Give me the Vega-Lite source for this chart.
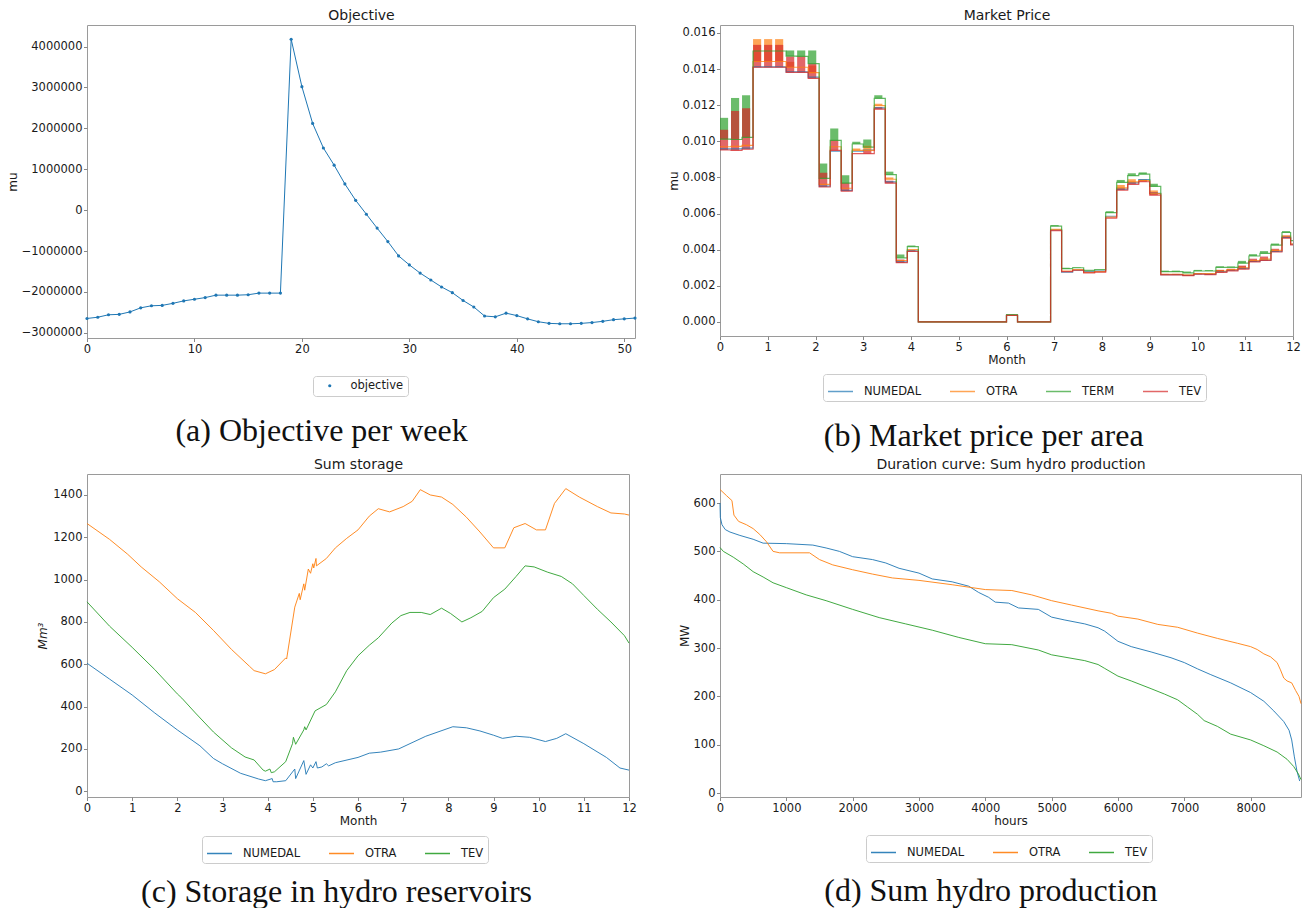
{
"$schema": "https://vega.github.io/schema/vega-lite/v6.json",
"padding": {"left": 1, "top": -112, "right": 0, "bottom": 0},
"background": "white",
"columns": 3,
"align": "none",
"bounds": "flush",
"spacing": {"row": 136, "column": 85},
"resolve": {"scale": {"color": "independent"}, "legend": {"color": "independent"}},
"datasets": {
"obj": [
{"week":0,"value":-2650000},{"week":1,"value":-2620000},{"week":2,"value":-2560000},{"week":3,"value":-2550000},{"week":4,"value":-2490000},{"week":5,"value":-2390000},{"week":6,"value":-2340000},{"week":7,"value":-2330000},{"week":8,"value":-2280000},{"week":9,"value":-2220000},{"week":10,"value":-2180000},{"week":11,"value":-2140000},{"week":12,"value":-2080000},{"week":13,"value":-2080000},{"week":14,"value":-2080000},{"week":15,"value":-2070000},{"week":16,"value":-2030000},{"week":17,"value":-2030000},{"week":18,"value":-2030000},{"week":19,"value":4180000},{"week":20,"value":3020000},{"week":21,"value":2120000},{"week":22,"value":1520000},{"week":23,"value":1100000},{"week":24,"value":640000},{"week":25,"value":240000},{"week":26,"value":-100000},{"week":27,"value":-440000},{"week":28,"value":-770000},{"week":29,"value":-1120000},{"week":30,"value":-1340000},{"week":31,"value":-1540000},{"week":32,"value":-1710000},{"week":33,"value":-1880000},{"week":34,"value":-2020000},{"week":35,"value":-2210000},{"week":36,"value":-2370000},{"week":37,"value":-2590000},{"week":38,"value":-2610000},{"week":39,"value":-2520000},{"week":40,"value":-2580000},{"week":41,"value":-2660000},{"week":42,"value":-2730000},{"week":43,"value":-2770000},{"week":44,"value":-2780000},{"week":45,"value":-2780000},{"week":46,"value":-2770000},{"week":47,"value":-2750000},{"week":48,"value":-2720000},{"week":49,"value":-2680000},{"week":50,"value":-2660000},{"week":51,"value":-2640000}
],
"price": [
{"m":0,"NUMEDAL":0.00958,"OTRA":0.0097,"TERM":0.01012,"TEV":0.00952},
{"m":0.2308,"NUMEDAL":0.00958,"OTRA":0.00972,"TERM":0.0101,"TEV":0.0095},
{"m":0.4615,"NUMEDAL":0.00962,"OTRA":0.00978,"TERM":0.01022,"TEV":0.00956},
{"m":0.6923,"NUMEDAL":0.01412,"OTRA":0.01442,"TERM":0.015,"TEV":0.0141},
{"m":0.9231,"NUMEDAL":0.01412,"OTRA":0.01442,"TERM":0.015,"TEV":0.0141},
{"m":1.1538,"NUMEDAL":0.01412,"OTRA":0.01442,"TERM":0.015,"TEV":0.0141},
{"m":1.3846,"NUMEDAL":0.01385,"OTRA":0.0141,"TERM":0.01472,"TEV":0.01382},
{"m":1.6154,"NUMEDAL":0.01385,"OTRA":0.0141,"TERM":0.0147,"TEV":0.01382},
{"m":1.8462,"NUMEDAL":0.01355,"OTRA":0.0138,"TERM":0.0143,"TEV":0.01348},
{"m":2.0769,"NUMEDAL":0.00752,"OTRA":0.00762,"TERM":0.00795,"TEV":0.00747},
{"m":2.3077,"NUMEDAL":0.00945,"OTRA":0.0097,"TERM":0.01005,"TEV":0.0095},
{"m":2.5385,"NUMEDAL":0.00728,"OTRA":0.0074,"TERM":0.00768,"TEV":0.00724},
{"m":2.7692,"NUMEDAL":0.00945,"OTRA":0.0095,"TERM":0.00985,"TEV":0.00932},
{"m":3.0,"NUMEDAL":0.00952,"OTRA":0.0095,"TERM":0.00968,"TEV":0.00932},
{"m":3.2308,"NUMEDAL":0.01185,"OTRA":0.01198,"TERM":0.01238,"TEV":0.01178},
{"m":3.4615,"NUMEDAL":0.00775,"OTRA":0.0079,"TERM":0.00816,"TEV":0.00768},
{"m":3.6923,"NUMEDAL":0.00332,"OTRA":0.0034,"TERM":0.00355,"TEV":0.00328},
{"m":3.9231,"NUMEDAL":0.00393,"OTRA":0.004,"TERM":0.00417,"TEV":0.0039},
{"m":4.1538,"NUMEDAL":0,"OTRA":0,"TERM":0,"TEV":0},
{"m":6.0,"NUMEDAL":0.00036,"OTRA":0.00037,"TERM":0.0004,"TEV":0.00036},
{"m":6.2308,"NUMEDAL":0,"OTRA":0,"TERM":0,"TEV":0},
{"m":6.9231,"NUMEDAL":0.0051,"OTRA":0.00512,"TERM":0.0053,"TEV":0.00505},
{"m":7.1538,"NUMEDAL":0.00276,"OTRA":0.00282,"TERM":0.00295,"TEV":0.00278},
{"m":7.3846,"NUMEDAL":0.00286,"OTRA":0.0029,"TERM":0.003,"TEV":0.00286},
{"m":7.6154,"NUMEDAL":0.00278,"OTRA":0.00274,"TERM":0.00285,"TEV":0.00272},
{"m":7.8462,"NUMEDAL":0.00282,"OTRA":0.00278,"TERM":0.0029,"TEV":0.00276},
{"m":8.0769,"NUMEDAL":0.00585,"OTRA":0.0058,"TERM":0.00605,"TEV":0.00575},
{"m":8.3077,"NUMEDAL":0.00735,"OTRA":0.00742,"TERM":0.00773,"TEV":0.0073},
{"m":8.5385,"NUMEDAL":0.0077,"OTRA":0.00775,"TERM":0.0081,"TEV":0.00762},
{"m":8.7692,"NUMEDAL":0.00788,"OTRA":0.00782,"TERM":0.00818,"TEV":0.00776},
{"m":9.0,"NUMEDAL":0.00712,"OTRA":0.0071,"TERM":0.0075,"TEV":0.00702},
{"m":9.2308,"NUMEDAL":0.00262,"OTRA":0.00264,"TERM":0.00278,"TEV":0.0026},
{"m":9.4615,"NUMEDAL":0.00262,"OTRA":0.00264,"TERM":0.00278,"TEV":0.0026},
{"m":9.6923,"NUMEDAL":0.00258,"OTRA":0.0026,"TERM":0.00272,"TEV":0.00256},
{"m":9.9231,"NUMEDAL":0.00266,"OTRA":0.00268,"TERM":0.00282,"TEV":0.00264},
{"m":10.1538,"NUMEDAL":0.00265,"OTRA":0.00268,"TERM":0.00282,"TEV":0.00262},
{"m":10.3846,"NUMEDAL":0.00278,"OTRA":0.00282,"TERM":0.00302,"TEV":0.00274},
{"m":10.6154,"NUMEDAL":0.00286,"OTRA":0.0029,"TERM":0.00302,"TEV":0.00283},
{"m":10.8462,"NUMEDAL":0.00296,"OTRA":0.003,"TERM":0.00325,"TEV":0.00292},
{"m":11.0769,"NUMEDAL":0.00335,"OTRA":0.0034,"TERM":0.00365,"TEV":0.00332},
{"m":11.3077,"NUMEDAL":0.00342,"OTRA":0.00348,"TERM":0.0038,"TEV":0.0034},
{"m":11.5385,"NUMEDAL":0.0039,"OTRA":0.00396,"TERM":0.00425,"TEV":0.00387},
{"m":11.7692,"NUMEDAL":0.00468,"OTRA":0.00475,"TERM":0.00495,"TEV":0.00464},
{"m":11.95,"NUMEDAL":0.0043,"OTRA":0.00432,"TERM":0.0045,"TEV":0.00427},
{"m":12.0,"NUMEDAL":0.0043,"OTRA":0.00432,"TERM":0.0045,"TEV":0.00427}
],
"bars": [
{"a":"TERM","m":0,"m2":0.17,"lo":0.01012,"hi":0.0113},
{"a":"TERM","m":0.2308,"m2":0.4008,"lo":0.0101,"hi":0.0124},
{"a":"TERM","m":0.4615,"m2":0.6315,"lo":0.01022,"hi":0.01255},
{"a":"TERM","m":1.3846,"m2":1.5546,"lo":0.01472,"hi":0.01503},
{"a":"TERM","m":1.6154,"m2":1.7854,"lo":0.0147,"hi":0.01503},
{"a":"TERM","m":1.8462,"m2":2.0162,"lo":0.0143,"hi":0.01503},
{"a":"TERM","m":2.0769,"m2":2.2469,"lo":0.00795,"hi":0.00877},
{"a":"TERM","m":2.3077,"m2":2.4777,"lo":0.01005,"hi":0.01071},
{"a":"TERM","m":2.5385,"m2":2.7085,"lo":0.00768,"hi":0.00812},
{"a":"TERM","m":2.7692,"m2":2.9392,"lo":0.00985,"hi":0.00998},
{"a":"TERM","m":3.0,"m2":3.17,"lo":0.00968,"hi":0.0101},
{"a":"TERM","m":3.2308,"m2":3.4008,"lo":0.01238,"hi":0.01255},
{"a":"TERM","m":3.4615,"m2":3.6315,"lo":0.00816,"hi":0.00832},
{"a":"TERM","m":3.6923,"m2":3.8623,"lo":0.00355,"hi":0.00373},
{"a":"TERM","m":3.9231,"m2":4.0931,"lo":0.00417,"hi":0.00423},
{"a":"TERM","m":6.0,"m2":6.17,"lo":0.0004,"hi":0.00042},
{"a":"TERM","m":6.9231,"m2":7.0931,"lo":0.0053,"hi":0.00536},
{"a":"TERM","m":7.1538,"m2":7.3238,"lo":0.00295,"hi":0.003},
{"a":"TERM","m":7.3846,"m2":7.5546,"lo":0.003,"hi":0.00303},
{"a":"TERM","m":8.0769,"m2":8.2469,"lo":0.00605,"hi":0.00613},
{"a":"TERM","m":8.3077,"m2":8.4777,"lo":0.00773,"hi":0.00786},
{"a":"TERM","m":8.5385,"m2":8.7085,"lo":0.0081,"hi":0.00823},
{"a":"TERM","m":8.7692,"m2":8.9392,"lo":0.00818,"hi":0.00828},
{"a":"TERM","m":9.0,"m2":9.17,"lo":0.0075,"hi":0.00765},
{"a":"TERM","m":9.2308,"m2":9.4008,"lo":0.00278,"hi":0.00284},
{"a":"TERM","m":9.4615,"m2":9.6315,"lo":0.00278,"hi":0.00284},
{"a":"TERM","m":9.6923,"m2":9.8623,"lo":0.00272,"hi":0.00279},
{"a":"TERM","m":9.9231,"m2":10.0931,"lo":0.00282,"hi":0.00288},
{"a":"TERM","m":10.1538,"m2":10.3238,"lo":0.00282,"hi":0.00287},
{"a":"TERM","m":10.3846,"m2":10.5546,"lo":0.00302,"hi":0.00308},
{"a":"TERM","m":10.6154,"m2":10.7854,"lo":0.00302,"hi":0.00307},
{"a":"TERM","m":10.8462,"m2":11.0162,"lo":0.00325,"hi":0.00338},
{"a":"TERM","m":11.0769,"m2":11.2469,"lo":0.00365,"hi":0.00375},
{"a":"TERM","m":11.3077,"m2":11.4777,"lo":0.0038,"hi":0.00392},
{"a":"TERM","m":11.5385,"m2":11.7085,"lo":0.00425,"hi":0.00434},
{"a":"TERM","m":11.7692,"m2":11.9392,"lo":0.00495,"hi":0.00503},
{"a":"OTRA","m":0.6923,"m2":0.8623,"lo":0.01442,"hi":0.01566},
{"a":"OTRA","m":0.9231,"m2":1.0931,"lo":0.01442,"hi":0.01566},
{"a":"OTRA","m":1.1538,"m2":1.3238,"lo":0.01442,"hi":0.01566},
{"a":"OTRA","m":1.3846,"m2":1.5546,"lo":0.0141,"hi":0.0144},
{"a":"OTRA","m":1.8462,"m2":2.0162,"lo":0.0138,"hi":0.0142},
{"a":"OTRA","m":2.7692,"m2":2.9392,"lo":0.0095,"hi":0.0096},
{"a":"OTRA","m":3.0,"m2":3.17,"lo":0.0095,"hi":0.00975},
{"a":"OTRA","m":3.2308,"m2":3.4008,"lo":0.01198,"hi":0.01208},
{"a":"OTRA","m":3.4615,"m2":3.6315,"lo":0.0079,"hi":0.008},
{"a":"OTRA","m":8.3077,"m2":8.4777,"lo":0.00742,"hi":0.00758},
{"a":"OTRA","m":8.5385,"m2":8.7085,"lo":0.00775,"hi":0.0079},
{"a":"OTRA","m":8.7692,"m2":8.9392,"lo":0.00782,"hi":0.0079},
{"a":"OTRA","m":9.0,"m2":9.17,"lo":0.0071,"hi":0.00728},
{"a":"OTRA","m":10.3846,"m2":10.5546,"lo":0.00282,"hi":0.00288},
{"a":"OTRA","m":10.8462,"m2":11.0162,"lo":0.003,"hi":0.00308},
{"a":"TEV","m":0,"m2":0.17,"lo":0.00952,"hi":0.01064},
{"a":"TEV","m":0.2308,"m2":0.4008,"lo":0.0095,"hi":0.01168},
{"a":"TEV","m":0.4615,"m2":0.6315,"lo":0.00956,"hi":0.01183},
{"a":"TEV","m":0.6923,"m2":0.8623,"lo":0.0141,"hi":0.01534},
{"a":"TEV","m":0.9231,"m2":1.0931,"lo":0.0141,"hi":0.01534},
{"a":"TEV","m":1.1538,"m2":1.3238,"lo":0.0141,"hi":0.01534},
{"a":"TEV","m":1.3846,"m2":1.5546,"lo":0.01382,"hi":0.0147},
{"a":"TEV","m":1.6154,"m2":1.7854,"lo":0.01382,"hi":0.0147},
{"a":"TEV","m":1.8462,"m2":2.0162,"lo":0.01348,"hi":0.0143},
{"a":"TEV","m":2.0769,"m2":2.2469,"lo":0.00747,"hi":0.00826},
{"a":"TEV","m":2.3077,"m2":2.4777,"lo":0.0095,"hi":0.01006},
{"a":"TEV","m":2.5385,"m2":2.7085,"lo":0.00724,"hi":0.00769},
{"a":"TEV","m":3.0,"m2":3.17,"lo":0.00932,"hi":0.0095},
{"a":"TEV","m":3.2308,"m2":3.4008,"lo":0.01178,"hi":0.0119},
{"a":"TEV","m":3.4615,"m2":3.6315,"lo":0.00768,"hi":0.00782},
{"a":"TEV","m":3.6923,"m2":3.8623,"lo":0.00328,"hi":0.00345},
{"a":"TEV","m":3.9231,"m2":4.0931,"lo":0.0039,"hi":0.00398},
{"a":"TEV","m":8.3077,"m2":8.4777,"lo":0.0073,"hi":0.00742},
{"a":"TEV","m":8.5385,"m2":8.7085,"lo":0.00762,"hi":0.00775},
{"a":"TEV","m":8.7692,"m2":8.9392,"lo":0.00776,"hi":0.00785},
{"a":"TEV","m":9.0,"m2":9.17,"lo":0.00702,"hi":0.00718},
{"a":"TEV","m":9.2308,"m2":9.4008,"lo":0.0026,"hi":0.00266},
{"a":"TEV","m":9.4615,"m2":9.6315,"lo":0.0026,"hi":0.00266},
{"a":"TEV","m":9.9231,"m2":10.0931,"lo":0.00264,"hi":0.0027},
{"a":"TEV","m":10.1538,"m2":10.3238,"lo":0.00262,"hi":0.00268},
{"a":"TEV","m":10.3846,"m2":10.5546,"lo":0.00274,"hi":0.00288},
{"a":"TEV","m":10.6154,"m2":10.7854,"lo":0.00283,"hi":0.00295},
{"a":"TEV","m":10.8462,"m2":11.0162,"lo":0.00292,"hi":0.00312},
{"a":"TEV","m":11.0769,"m2":11.2469,"lo":0.00332,"hi":0.0035},
{"a":"TEV","m":11.3077,"m2":11.4777,"lo":0.0034,"hi":0.00362},
{"a":"TEV","m":11.5385,"m2":11.7085,"lo":0.00387,"hi":0.00405},
{"a":"TEV","m":11.7692,"m2":11.9392,"lo":0.00464,"hi":0.00478}
],
"storage": [
{"a":"NUMEDAL","m":0,"v":605},{"a":"NUMEDAL","m":0.5,"v":530},{"a":"NUMEDAL","m":1,"v":455},{"a":"NUMEDAL","m":1.5,"v":370},{"a":"NUMEDAL","m":2,"v":290},{"a":"NUMEDAL","m":2.5,"v":215},{"a":"NUMEDAL","m":2.8,"v":155},{"a":"NUMEDAL","m":3,"v":130},{"a":"NUMEDAL","m":3.4,"v":85},{"a":"NUMEDAL","m":3.8,"v":58},{"a":"NUMEDAL","m":3.95,"v":50},{"a":"NUMEDAL","m":4.1,"v":60},{"a":"NUMEDAL","m":4.12,"v":45},{"a":"NUMEDAL","m":4.2,"v":45},{"a":"NUMEDAL","m":4.4,"v":50},{"a":"NUMEDAL","m":4.6,"v":105},{"a":"NUMEDAL","m":4.62,"v":60},{"a":"NUMEDAL","m":4.8,"v":145},{"a":"NUMEDAL","m":4.85,"v":80},{"a":"NUMEDAL","m":4.95,"v":125},{"a":"NUMEDAL","m":5.0,"v":110},{"a":"NUMEDAL","m":5.07,"v":140},{"a":"NUMEDAL","m":5.1,"v":110},{"a":"NUMEDAL","m":5.2,"v":115},{"a":"NUMEDAL","m":5.3,"v":130},{"a":"NUMEDAL","m":5.35,"v":120},{"a":"NUMEDAL","m":5.5,"v":135},{"a":"NUMEDAL","m":6.0,"v":160},{"a":"NUMEDAL","m":6.25,"v":180},{"a":"NUMEDAL","m":6.5,"v":185},{"a":"NUMEDAL","m":6.9,"v":200},{"a":"NUMEDAL","m":7.5,"v":260},{"a":"NUMEDAL","m":8.1,"v":305},{"a":"NUMEDAL","m":8.4,"v":300},{"a":"NUMEDAL","m":8.7,"v":285},{"a":"NUMEDAL","m":9.0,"v":265},{"a":"NUMEDAL","m":9.2,"v":250},{"a":"NUMEDAL","m":9.5,"v":260},{"a":"NUMEDAL","m":9.8,"v":255},{"a":"NUMEDAL","m":10.15,"v":235},{"a":"NUMEDAL","m":10.4,"v":250},{"a":"NUMEDAL","m":10.6,"v":272},{"a":"NUMEDAL","m":11,"v":225},{"a":"NUMEDAL","m":11.5,"v":160},{"a":"NUMEDAL","m":11.8,"v":110},{"a":"NUMEDAL","m":12,"v":100},
{"a":"OTRA","m":0,"v":1265},{"a":"OTRA","m":0.5,"v":1190},{"a":"OTRA","m":0.9,"v":1120},{"a":"OTRA","m":1.2,"v":1060},{"a":"OTRA","m":1.6,"v":990},{"a":"OTRA","m":2,"v":910},{"a":"OTRA","m":2.4,"v":845},{"a":"OTRA","m":2.8,"v":760},{"a":"OTRA","m":3.2,"v":670},{"a":"OTRA","m":3.6,"v":590},{"a":"OTRA","m":3.7,"v":570},{"a":"OTRA","m":3.95,"v":555},{"a":"OTRA","m":4.15,"v":575},{"a":"OTRA","m":4.4,"v":630},{"a":"OTRA","m":4.42,"v":625},{"a":"OTRA","m":4.6,"v":870},{"a":"OTRA","m":4.7,"v":935},{"a":"OTRA","m":4.72,"v":905},{"a":"OTRA","m":4.8,"v":980},{"a":"OTRA","m":4.82,"v":950},{"a":"OTRA","m":4.9,"v":1050},{"a":"OTRA","m":4.95,"v":1030},{"a":"OTRA","m":5.0,"v":1075},{"a":"OTRA","m":5.02,"v":1055},{"a":"OTRA","m":5.07,"v":1100},{"a":"OTRA","m":5.08,"v":1065},{"a":"OTRA","m":5.3,"v":1100},{"a":"OTRA","m":5.5,"v":1150},{"a":"OTRA","m":5.75,"v":1195},{"a":"OTRA","m":6.0,"v":1235},{"a":"OTRA","m":6.25,"v":1300},{"a":"OTRA","m":6.45,"v":1335},{"a":"OTRA","m":6.7,"v":1320},{"a":"OTRA","m":7.0,"v":1345},{"a":"OTRA","m":7.2,"v":1370},{"a":"OTRA","m":7.38,"v":1425},{"a":"OTRA","m":7.6,"v":1400},{"a":"OTRA","m":7.85,"v":1390},{"a":"OTRA","m":8.1,"v":1355},{"a":"OTRA","m":8.4,"v":1295},{"a":"OTRA","m":8.7,"v":1225},{"a":"OTRA","m":9.0,"v":1150},{"a":"OTRA","m":9.25,"v":1150},{"a":"OTRA","m":9.45,"v":1245},{"a":"OTRA","m":9.7,"v":1265},{"a":"OTRA","m":9.95,"v":1235},{"a":"OTRA","m":10.15,"v":1235},{"a":"OTRA","m":10.35,"v":1360},{"a":"OTRA","m":10.6,"v":1430},{"a":"OTRA","m":10.9,"v":1390},{"a":"OTRA","m":11.3,"v":1345},{"a":"OTRA","m":11.6,"v":1315},{"a":"OTRA","m":11.9,"v":1310},{"a":"OTRA","m":12,"v":1305},
{"a":"TEV","m":0,"v":895},{"a":"TEV","m":0.5,"v":780},{"a":"TEV","m":1,"v":680},{"a":"TEV","m":1.5,"v":575},{"a":"TEV","m":2,"v":460},{"a":"TEV","m":2.1,"v":440},{"a":"TEV","m":2.4,"v":370},{"a":"TEV","m":2.8,"v":280},{"a":"TEV","m":3.2,"v":205},{"a":"TEV","m":3.5,"v":162},{"a":"TEV","m":3.7,"v":148},{"a":"TEV","m":3.9,"v":100},{"a":"TEV","m":3.95,"v":95},{"a":"TEV","m":4.05,"v":105},{"a":"TEV","m":4.08,"v":88},{"a":"TEV","m":4.15,"v":92},{"a":"TEV","m":4.4,"v":140},{"a":"TEV","m":4.55,"v":225},{"a":"TEV","m":4.57,"v":255},{"a":"TEV","m":4.62,"v":222},{"a":"TEV","m":4.8,"v":290},{"a":"TEV","m":4.82,"v":305},{"a":"TEV","m":4.85,"v":290},{"a":"TEV","m":5.05,"v":380},{"a":"TEV","m":5.3,"v":410},{"a":"TEV","m":5.5,"v":470},{"a":"TEV","m":5.75,"v":570},{"a":"TEV","m":6.0,"v":640},{"a":"TEV","m":6.25,"v":690},{"a":"TEV","m":6.45,"v":725},{"a":"TEV","m":6.75,"v":795},{"a":"TEV","m":6.95,"v":830},{"a":"TEV","m":7.15,"v":845},{"a":"TEV","m":7.4,"v":845},{"a":"TEV","m":7.6,"v":835},{"a":"TEV","m":7.85,"v":865},{"a":"TEV","m":8.05,"v":840},{"a":"TEV","m":8.3,"v":800},{"a":"TEV","m":8.5,"v":820},{"a":"TEV","m":8.75,"v":850},{"a":"TEV","m":9.0,"v":915},{"a":"TEV","m":9.25,"v":955},{"a":"TEV","m":9.5,"v":1015},{"a":"TEV","m":9.7,"v":1065},{"a":"TEV","m":9.9,"v":1060},{"a":"TEV","m":10.2,"v":1035},{"a":"TEV","m":10.5,"v":1015},{"a":"TEV","m":10.75,"v":980},{"a":"TEV","m":11,"v":925},{"a":"TEV","m":11.3,"v":860},{"a":"TEV","m":11.6,"v":800},{"a":"TEV","m":11.9,"v":735},{"a":"TEV","m":12,"v":700}
],
"dur": [
{"a":"NUMEDAL","h":0,"v":600},{"a":"NUMEDAL","h":5,"v":570},{"a":"NUMEDAL","h":30,"v":555},{"a":"NUMEDAL","h":80,"v":545},{"a":"NUMEDAL","h":150,"v":540},{"a":"NUMEDAL","h":300,"v":533},{"a":"NUMEDAL","h":500,"v":525},{"a":"NUMEDAL","h":650,"v":517},{"a":"NUMEDAL","h":1000,"v":516},{"a":"NUMEDAL","h":1400,"v":513},{"a":"NUMEDAL","h":1600,"v":507},{"a":"NUMEDAL","h":1800,"v":500},{"a":"NUMEDAL","h":2000,"v":489},{"a":"NUMEDAL","h":2300,"v":483},{"a":"NUMEDAL","h":2500,"v":476},{"a":"NUMEDAL","h":2700,"v":465},{"a":"NUMEDAL","h":3000,"v":455},{"a":"NUMEDAL","h":3200,"v":443},{"a":"NUMEDAL","h":3500,"v":437},{"a":"NUMEDAL","h":3750,"v":428},{"a":"NUMEDAL","h":3900,"v":415},{"a":"NUMEDAL","h":4050,"v":405},{"a":"NUMEDAL","h":4150,"v":395},{"a":"NUMEDAL","h":4350,"v":393},{"a":"NUMEDAL","h":4500,"v":383},{"a":"NUMEDAL","h":4800,"v":380},{"a":"NUMEDAL","h":5000,"v":364},{"a":"NUMEDAL","h":5200,"v":358},{"a":"NUMEDAL","h":5500,"v":350},{"a":"NUMEDAL","h":5700,"v":342},{"a":"NUMEDAL","h":5800,"v":335},{"a":"NUMEDAL","h":6000,"v":314},{"a":"NUMEDAL","h":6200,"v":303},{"a":"NUMEDAL","h":6500,"v":292},{"a":"NUMEDAL","h":6800,"v":280},{"a":"NUMEDAL","h":7000,"v":270},{"a":"NUMEDAL","h":7200,"v":257},{"a":"NUMEDAL","h":7400,"v":245},{"a":"NUMEDAL","h":7700,"v":228},{"a":"NUMEDAL","h":8000,"v":208},{"a":"NUMEDAL","h":8200,"v":190},{"a":"NUMEDAL","h":8350,"v":170},{"a":"NUMEDAL","h":8500,"v":148},{"a":"NUMEDAL","h":8580,"v":130},{"a":"NUMEDAL","h":8620,"v":110},{"a":"NUMEDAL","h":8660,"v":75},{"a":"NUMEDAL","h":8700,"v":45},{"a":"NUMEDAL","h":8740,"v":25},
{"a":"OTRA","h":0,"v":628},{"a":"OTRA","h":100,"v":615},{"a":"OTRA","h":180,"v":605},{"a":"OTRA","h":210,"v":575},{"a":"OTRA","h":280,"v":562},{"a":"OTRA","h":400,"v":555},{"a":"OTRA","h":500,"v":547},{"a":"OTRA","h":600,"v":535},{"a":"OTRA","h":700,"v":520},{"a":"OTRA","h":800,"v":500},{"a":"OTRA","h":900,"v":497},{"a":"OTRA","h":1350,"v":497},{"a":"OTRA","h":1500,"v":483},{"a":"OTRA","h":1700,"v":472},{"a":"OTRA","h":2000,"v":462},{"a":"OTRA","h":2300,"v":453},{"a":"OTRA","h":2600,"v":445},{"a":"OTRA","h":3000,"v":440},{"a":"OTRA","h":3500,"v":431},{"a":"OTRA","h":3800,"v":425},{"a":"OTRA","h":4000,"v":421},{"a":"OTRA","h":4400,"v":419},{"a":"OTRA","h":4700,"v":410},{"a":"OTRA","h":5000,"v":398},{"a":"OTRA","h":5300,"v":389},{"a":"OTRA","h":5700,"v":377},{"a":"OTRA","h":5900,"v":372},{"a":"OTRA","h":6000,"v":366},{"a":"OTRA","h":6300,"v":360},{"a":"OTRA","h":6600,"v":349},{"a":"OTRA","h":6900,"v":343},{"a":"OTRA","h":7200,"v":331},{"a":"OTRA","h":7500,"v":320},{"a":"OTRA","h":7800,"v":310},{"a":"OTRA","h":8000,"v":303},{"a":"OTRA","h":8100,"v":297},{"a":"OTRA","h":8200,"v":288},{"a":"OTRA","h":8300,"v":282},{"a":"OTRA","h":8400,"v":270},{"a":"OTRA","h":8450,"v":255},{"a":"OTRA","h":8500,"v":238},{"a":"OTRA","h":8550,"v":232},{"a":"OTRA","h":8620,"v":228},{"a":"OTRA","h":8680,"v":212},{"a":"OTRA","h":8730,"v":200},{"a":"OTRA","h":8760,"v":185},
{"a":"TEV","h":0,"v":508},{"a":"TEV","h":50,"v":500},{"a":"TEV","h":200,"v":488},{"a":"TEV","h":350,"v":474},{"a":"TEV","h":500,"v":458},{"a":"TEV","h":650,"v":447},{"a":"TEV","h":800,"v":435},{"a":"TEV","h":1000,"v":425},{"a":"TEV","h":1300,"v":410},{"a":"TEV","h":1600,"v":398},{"a":"TEV","h":2000,"v":380},{"a":"TEV","h":2400,"v":363},{"a":"TEV","h":2800,"v":350},{"a":"TEV","h":3200,"v":337},{"a":"TEV","h":3600,"v":322},{"a":"TEV","h":4000,"v":309},{"a":"TEV","h":4400,"v":307},{"a":"TEV","h":4800,"v":296},{"a":"TEV","h":5000,"v":286},{"a":"TEV","h":5500,"v":274},{"a":"TEV","h":5700,"v":266},{"a":"TEV","h":5800,"v":258},{"a":"TEV","h":6000,"v":242},{"a":"TEV","h":6200,"v":232},{"a":"TEV","h":6500,"v":216},{"a":"TEV","h":6700,"v":205},{"a":"TEV","h":6900,"v":193},{"a":"TEV","h":7050,"v":178},{"a":"TEV","h":7200,"v":163},{"a":"TEV","h":7300,"v":150},{"a":"TEV","h":7500,"v":138},{"a":"TEV","h":7700,"v":122},{"a":"TEV","h":8000,"v":110},{"a":"TEV","h":8200,"v":98},{"a":"TEV","h":8400,"v":85},{"a":"TEV","h":8550,"v":70},{"a":"TEV","h":8650,"v":55},{"a":"TEV","h":8720,"v":40},{"a":"TEV","h":8760,"v":28}
]
},
"concat": [
 {"width": 1, "height": 1, "data": {"values": []}, "mark": "point", "encoding": {}, "view": {"stroke": null}},
 {"width": 1, "height": 1, "data": {"values": []}, "mark": "point", "encoding": {}, "view": {"stroke": null}},
 {"width": 1, "height": 1, "data": {"values": []}, "mark": "point", "encoding": {}, "view": {"stroke": null}},
 {"width": 1, "height": 1, "data": {"values": []}, "mark": "point", "encoding": {}, "view": {"stroke": null}},
 {
  "width": 548, "height": 313,
  "title": {"text": "(a) Objective per week", "orient": "bottom", "anchor": "middle", "frame": "bounds", "font": "Liberation Serif", "fontSize": 32, "fontWeight": "normal", "offset": 19, "color": "#111111"},
  "data": {"name": "obj"},
  "resolve": {"axis": {"x": "independent"}},
  "layer": [
   {"mark": {"type": "line", "color": "#1f77b4", "strokeWidth": 1},
    "encoding": {
     "x": {"field": "week", "type": "quantitative", "scale": {"domain": [0, 51], "nice": false, "zero": false}, "axis": {"values": [0,10,20,30,40,50], "format": "d", "title": null}},
     "y": {"field": "value", "type": "quantitative", "scale": {"domain": [-3128000, 4528000], "nice": false, "zero": false}, "axis": {"values": [-3000000,-2000000,-1000000,0,1000000,2000000,3000000,4000000], "format": "d", "title": "mu"}}
    }},
   {"mark": {"type": "point", "filled": true, "size": 10, "opacity": 1},
    "encoding": {
     "x": {"field": "week", "type": "quantitative", "axis": {"orient": "top", "title": "Objective", "labels": false, "ticks": false, "domain": false, "titleFontSize": 14, "titlePadding": 3}},
     "y": {"field": "value", "type": "quantitative", "axis": {"values": [-3000000,-2000000,-1000000,0,1000000,2000000,3000000,4000000], "format": "d", "title": "mu"}},
     "color": {"datum": "objective", "scale": {"range": ["#1f77b4"]}, "legend": {"title": null, "orient": "none", "legendX": 226, "legendY": 351, "symbolType": "circle", "symbolSize": 10, "symbolOffset": 7, "labelOffset": 15}}
    }}
  ]
 },
 {
  "width": 573, "height": 311,
  "title": {"text": "(b) Market price per area", "orient": "bottom", "anchor": "middle", "frame": "bounds", "font": "Liberation Serif", "fontSize": 32, "fontWeight": "normal", "offset": 19, "color": "#111111"},
  "resolve": {"axis": {"x": "independent"}},
  "encoding": {
   "color": {"field": "a", "type": "nominal", "scale": {"domain": ["NUMEDAL","OTRA","TERM","TEV"], "range": ["#1f77b4","#ff7f0e","#2ca02c","#d62728"]}, "legend": {"title": null, "orient": "none", "legendX": 103, "legendY": 349, "symbolType": "stroke"}}
  },
  "layer": [
   {"data": {"name": "bars"},
    "mark": {"type": "rect", "opacity": 0.7},
    "encoding": {
     "x": {"field": "m", "type": "quantitative", "scale": {"domain": [0, 12], "nice": false, "zero": false}, "axis": {"values": [0,1,2,3,4,5,6,7,8,9,10,11,12], "format": "d", "title": "Month"}},
     "x2": {"field": "m2"},
     "y": {"field": "lo", "type": "quantitative", "scale": {"domain": [-0.00078, 0.01644], "nice": false, "zero": false}, "axis": {"values": [0,0.002,0.004,0.006,0.008,0.01,0.012,0.014,0.016], "format": ".3f", "title": "mu"}},
     "y2": {"field": "hi"}
    }},
   {"data": {"name": "price"},
    "transform": [{"fold": ["NUMEDAL","OTRA","TERM","TEV"], "as": ["a","v"]}],
    "mark": {"type": "line", "interpolate": "step-after", "strokeWidth": 1.2, "opacity": 0.75},
    "encoding": {
     "x": {"field": "m", "type": "quantitative", "axis": {"orient": "top", "title": "Market Price", "labels": false, "ticks": false, "domain": false, "titleFontSize": 14, "titlePadding": 3}},
     "y": {"field": "v", "type": "quantitative", "axis": {"values": [0,0.002,0.004,0.006,0.008,0.01,0.012,0.014,0.016], "format": ".3f", "title": "mu"}}
    }}
  ]
 },
 {"width": 1, "height": 1, "data": {"values": []}, "mark": "point", "encoding": {}, "view": {"stroke": null}},
 {
  "width": 542, "height": 323,
  "title": {"text": "(c) Storage in hydro reservoirs", "orient": "bottom", "anchor": "middle", "frame": "bounds", "font": "Liberation Serif", "fontSize": 32, "fontWeight": "normal", "offset": 13, "color": "#111111"},
  "data": {"name": "storage"},
  "resolve": {"axis": {"x": "independent"}},
  "layer": [
   {"mark": {"type": "line", "strokeWidth": 1, "opacity": 0.9},
    "encoding": {
     "x": {"field": "m", "type": "quantitative", "scale": {"domain": [0, 12], "nice": false, "zero": false}, "axis": {"values": [0,1,2,3,4,5,6,7,8,9,10,11,12], "format": "d", "title": "Month"}},
     "y": {"field": "v", "type": "quantitative", "scale": {"domain": [-27, 1499], "nice": false, "zero": false}, "axis": {"values": [0,200,400,600,800,1000,1200,1400], "format": "d", "title": "Mm³", "titleFontStyle": "italic", "titlePadding": 3}},
     "color": {"field": "a", "type": "nominal", "scale": {"domain": ["NUMEDAL","OTRA","TEV"], "range": ["#1f77b4","#ff7f0e","#2ca02c"]}, "legend": {"title": null, "orient": "none", "legendX": 115, "legendY": 362}}
    }},
   {"mark": {"type": "point", "opacity": 0},
    "encoding": {
     "x": {"field": "m", "type": "quantitative", "axis": {"orient": "top", "title": "Sum storage", "labels": false, "ticks": false, "domain": false, "titleFontSize": 14, "titlePadding": 3}}
    }}
  ]
 },
 {
  "width": 581, "height": 323,
  "title": {"text": "(d) Sum hydro production", "orient": "bottom", "anchor": "middle", "frame": "bounds", "font": "Liberation Serif", "fontSize": 32, "fontWeight": "normal", "offset": 13, "color": "#111111"},
  "data": {"name": "dur"},
  "resolve": {"axis": {"x": "independent"}},
  "layer": [
   {"mark": {"type": "line", "strokeWidth": 1, "opacity": 0.9},
    "encoding": {
     "x": {"field": "h", "type": "quantitative", "scale": {"domain": [0, 8760], "nice": false, "zero": false}, "axis": {"values": [0,1000,2000,3000,4000,5000,6000,7000,8000], "format": "d", "title": "hours"}},
     "y": {"field": "v", "type": "quantitative", "scale": {"domain": [-8, 660], "nice": false, "zero": false}, "axis": {"values": [0,100,200,300,400,500,600], "format": "d", "title": "MW"}},
     "color": {"field": "a", "type": "nominal", "scale": {"domain": ["NUMEDAL","OTRA","TEV"], "range": ["#1f77b4","#ff7f0e","#2ca02c"]}, "legend": {"title": null, "orient": "none", "legendX": 146, "legendY": 361}}
    }},
   {"mark": {"type": "point", "opacity": 0},
    "encoding": {
     "x": {"field": "h", "type": "quantitative", "axis": {"orient": "top", "title": "Duration curve: Sum hydro production", "labels": false, "ticks": false, "domain": false, "titleFontSize": 14, "titlePadding": 3}}
    }}
  ]
 }
],
"config": {
 "font": "DejaVu Sans",
 "view": {"stroke": "#9a9a9a", "strokeWidth": 1},
 "axis": {"domain": false, "grid": false, "tickColor": "#888888", "tickSize": 3.5, "labelFontSize": 11.5, "labelFont": "DejaVu Sans", "labelColor": "#1a1a1a", "labelPadding": 1.5, "titleFontSize": 12, "titleFont": "DejaVu Sans", "titleFontWeight": "normal", "titleColor": "#1a1a1a", "titlePadding": 2, "labelFlush": false, "labelOverlap": false},
 "title": {"fontSize": 14, "fontWeight": "normal", "offset": 4, "color": "#1a1a1a", "font": "DejaVu Sans"},
 "legend": {"direction": "horizontal", "padding": 4, "strokeColor": "#cccccc", "cornerRadius": 3, "fillColor": "white", "labelFontSize": 11.5, "labelFont": "DejaVu Sans", "labelColor": "#1a1a1a", "symbolType": "stroke", "symbolSize": 625, "symbolStrokeWidth": 1.5, "labelOffset": 10, "columnPadding": 25}
}
}
